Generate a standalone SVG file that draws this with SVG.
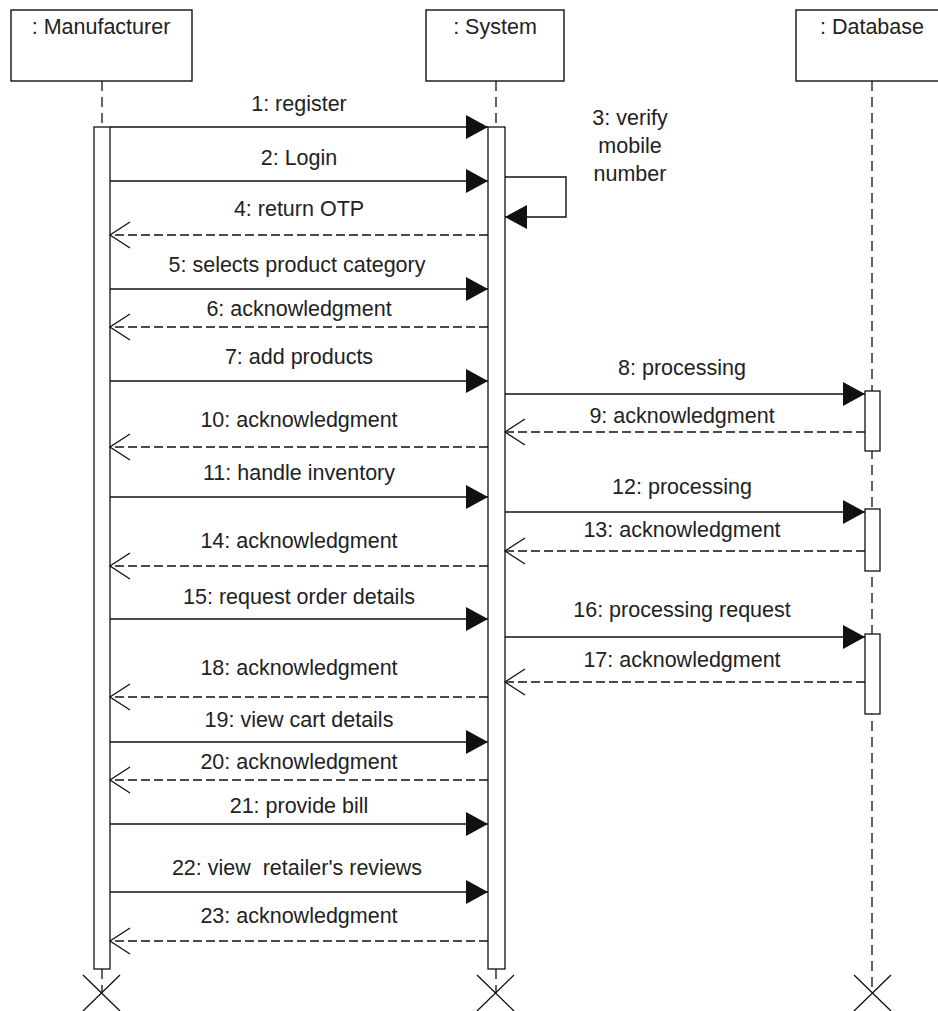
<svg xmlns="http://www.w3.org/2000/svg" width="938" height="1011" viewBox="0 0 938 1011">
  <style>
    .box { fill: #ffffff; stroke: #111111; stroke-width: 1.4; }
    .bar { fill: #ffffff; stroke: #111111; stroke-width: 1.3; }
    .life { stroke: #111111; stroke-width: 1.3; stroke-dasharray: 10 6; fill: none; }
    .kill { stroke: #111111; stroke-width: 1.3; fill: none; }
    .call { stroke: #111111; stroke-width: 1.4; fill: none; marker-end: url(#filled); }
    .reply { stroke: #111111; stroke-width: 1.3; fill: none; stroke-dasharray: 9 4; marker-end: url(#open); }
    text { font-family: "Liberation Sans", Arial, sans-serif; font-size: 21.5px; fill: #222222; text-anchor: middle; }
  </style>
  <defs>
    <marker id="filled" markerUnits="userSpaceOnUse" markerWidth="24" markerHeight="26" refX="22" refY="12" orient="auto">
      <path d="M0,0 L22,12 L0,24 Z" fill="#111111"/>
    </marker>
    <marker id="open" markerUnits="userSpaceOnUse" markerWidth="24" markerHeight="30" refX="21" refY="14" orient="auto">
      <path d="M1,1 L21,14 L1,27" fill="none" stroke="#111111" stroke-width="1.3"/>
    </marker>
  </defs>

  <rect width="938" height="1011" fill="#ffffff"/>

  <!-- Manufacturer -->
  <g id="manufacturer">
    <rect class="box" x="11" y="10" width="181" height="71"/>
    <text x="101" y="34">: Manufacturer</text>
    <line class="life" x1="102" y1="81" x2="102" y2="127"/>
    <line class="life" x1="102" y1="969" x2="102" y2="993"/>
    <rect class="bar" x="94" y="127" width="16" height="842"/>
    <path class="kill" d="M83,975 L120,1011 M120,975 L83,1011"/>
  </g>

  <!-- System -->
  <g id="system">
    <rect class="box" x="426" y="10" width="138" height="71"/>
    <text x="495" y="34">: System</text>
    <line class="life" x1="496" y1="81" x2="496" y2="127"/>
    <line class="life" x1="496" y1="969" x2="496" y2="993"/>
    <rect class="bar" x="488" y="127" width="17" height="842"/>
    <path class="kill" d="M477,975 L514,1011 M514,975 L477,1011"/>
  </g>

  <!-- Database -->
  <g id="database">
    <rect class="box" x="796" y="10" width="152" height="71"/>
    <text x="872" y="34">: Database</text>
    <line class="life" x1="872" y1="81" x2="872" y2="993"/>
    <rect class="bar" x="865" y="391" width="15" height="60"/>
    <rect class="bar" x="865" y="509" width="15" height="62"/>
    <rect class="bar" x="865" y="634" width="15" height="80"/>
    <path class="kill" d="M854,975 L891,1011 M891,975 L854,1011"/>
  </g>

  <!-- Messages -->
  <g id="connectors">
    <line class="call" x1="110" y1="127" x2="488" y2="127"/>
    <text x="299" y="111">1: register</text>

    <line class="call" x1="110" y1="181" x2="488" y2="181"/>
    <text x="299" y="165">2: Login</text>

    <path class="call" d="M505,177 H566 V217 H505"/>
    <text x="630" y="125">3: verify</text>
    <text x="630" y="153">mobile</text>
    <text x="630" y="181">number</text>

    <line class="reply" x1="488" y1="235" x2="110" y2="235"/>
    <text x="299" y="216">4: return OTP</text>

    <line class="call" x1="110" y1="289" x2="488" y2="289"/>
    <text x="297" y="272">5: selects product category</text>

    <line class="reply" x1="488" y1="327" x2="110" y2="327"/>
    <text x="299" y="316">6: acknowledgment</text>

    <line class="call" x1="110" y1="381" x2="488" y2="381"/>
    <text x="299" y="364">7: add products</text>

    <line class="call" x1="505" y1="394" x2="865" y2="394"/>
    <text x="682" y="375">8: processing</text>

    <line class="reply" x1="865" y1="432" x2="505" y2="432"/>
    <text x="682" y="423">9: acknowledgment</text>

    <line class="reply" x1="488" y1="447" x2="110" y2="447"/>
    <text x="299" y="427">10: acknowledgment</text>

    <line class="call" x1="110" y1="497" x2="488" y2="497"/>
    <text x="299" y="480">11: handle inventory</text>

    <line class="call" x1="505" y1="512" x2="865" y2="512"/>
    <text x="682" y="494">12: processing</text>

    <line class="reply" x1="865" y1="551" x2="505" y2="551"/>
    <text x="682" y="537">13: acknowledgment</text>

    <line class="reply" x1="488" y1="566" x2="110" y2="566"/>
    <text x="299" y="548">14: acknowledgment</text>

    <line class="call" x1="110" y1="619" x2="488" y2="619"/>
    <text x="299" y="604">15: request order details</text>

    <line class="call" x1="505" y1="637" x2="865" y2="637"/>
    <text x="682" y="617">16: processing request</text>

    <line class="reply" x1="865" y1="682" x2="505" y2="682"/>
    <text x="682" y="667">17: acknowledgment</text>

    <line class="reply" x1="488" y1="697" x2="110" y2="697"/>
    <text x="299" y="675">18: acknowledgment</text>

    <line class="call" x1="110" y1="742" x2="488" y2="742"/>
    <text x="299" y="727">19: view cart details</text>

    <line class="reply" x1="488" y1="780" x2="110" y2="780"/>
    <text x="299" y="769">20: acknowledgment</text>

    <line class="call" x1="110" y1="824" x2="488" y2="824"/>
    <text x="299" y="813">21: provide bill</text>

    <line class="call" x1="110" y1="892" x2="488" y2="892"/>
    <text x="297" y="875" xml:space="preserve">22: view  retailer's reviews</text>

    <line class="reply" x1="488" y1="941" x2="110" y2="941"/>
    <text x="299" y="923">23: acknowledgment</text>
  </g>
</svg>
